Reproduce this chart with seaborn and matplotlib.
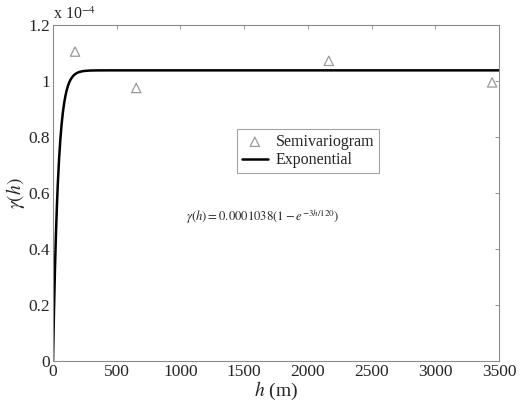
"""Semivariogram with fitted exponential model."""

import numpy as np
import pandas as pd
import matplotlib.pyplot as plt
import seaborn as sns

# empirical semivariogram (lag in m, gamma)
lag_m = [173, 653, 2164, 3446]
gamma_emp = [1.105e-4, 0.975e-4, 1.072e-4, 0.995e-4]

# fitted exponential model
sill = 0.0001038
model_range = 120
h_model = np.linspace(0, 3500, 1401)

SCALE = 1e-4

sns.set_theme(style="white")
plt.rcParams["font.family"] = ["Liberation Serif", "DejaVu Serif"]
plt.rcParams["mathtext.fontset"] = "stix"

emp = pd.DataFrame({"h": lag_m, "gamma": np.array(gamma_emp) / SCALE})
mod = pd.DataFrame({"h": h_model,
                    "gamma": sill * (1 - np.exp(-3 * h_model / model_range)) / SCALE})

fig = plt.figure(figsize=(5.26, 4.01), dpi=100)
ax = fig.add_axes([0.1008, 0.0998, 0.8479, 0.8379])

sns.scatterplot(data=emp, x="h", y="gamma", ax=ax, marker="^", s=45,
                facecolor="none", edgecolor="#9a9a9a", linewidth=0.9,
                label="Semivariogram", zorder=3)
sns.lineplot(data=mod, x="h", y="gamma", ax=ax, color="black", linewidth=1.8,
             label="Exponential")

ax.set_xlim(0, 3500)
ax.set_ylim(0, 1.2)
ax.set_xticks(range(0, 3501, 500))
ax.set_yticks([0, 0.2, 0.4, 0.6, 0.8, 1.0, 1.2])
ax.set_yticklabels(["0", "0.2", "0.4", "0.6", "0.8", "1", "1.2"])
ax.tick_params(direction="in", length=3, width=0.6, color="#8c8c8c",
               labelsize=12.5, top=True, right=True, pad=2)
for side in ax.spines.values():
    side.set_color("#8c8c8c")
    side.set_linewidth(0.8)

ax.set_xlabel(r"$h$ (m)", fontsize=14, labelpad=0)
ax.set_ylabel(r"$\gamma(h)$", fontsize=14, labelpad=1)
ax.text(0.0, 1.005, r"x 10$^{-4}$", transform=ax.transAxes, fontsize=11.5,
        ha="left", va="bottom")

ax.text(0.471, 0.429,
        r"$\gamma\left(h\right)=0.0001038\left(1-e^{-3h/120}\right)$",
        transform=ax.transAxes, fontsize=9.2, ha="center", va="center")

leg = ax.legend(loc="upper left", bbox_to_anchor=(0.413, 0.69), fontsize=11.5,
                frameon=True, fancybox=False, borderpad=0.3, labelspacing=0.15,
                handlelength=1.6, handletextpad=0.5, borderaxespad=0)
leg.get_frame().set_edgecolor("#8c8c8c")
leg.get_frame().set_linewidth(0.8)

fig.savefig("out.png", dpi=100)
